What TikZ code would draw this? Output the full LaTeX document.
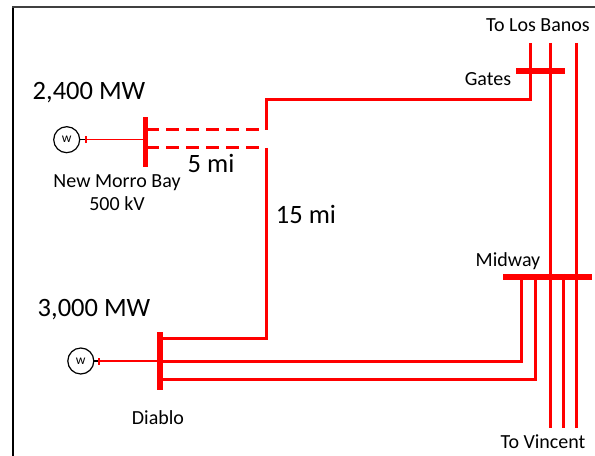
\documentclass[tikz,border=0pt]{standalone}
\usepackage{fontspec}
\setmainfont{Carlito}
\usepackage{tikz}

\tikzset{
  line/.style = {draw=red, line width=3bp},
  feeder/.style = {draw=red, line width=1.5bp},
  dashline/.style = {line, dash pattern=on 13bp off 7bp, dash phase=2bp},
  busbar/.style = {fill=red, inner sep=0pt, outer sep=0pt},
  gen/.style = {circle, draw, line width=1.2bp, minimum size=26bp, inner sep=0pt,
                font=\fontsize{13.5bp}{13.5bp}\selectfont},
  big/.style = {anchor=base, inner sep=0pt, font=\fontsize{26.5bp}{30bp}\selectfont},
  small/.style = {anchor=base, inner sep=0pt, font=\fontsize{20bp}{24bp}\selectfont}
}

\begin{document}
\begin{tikzpicture}[x=1bp, y=-1bp]
  \useasboundingbox (0,0) rectangle (595,456);
  % frame
  \draw[black, line width=2bp] (13,456) -- (13,7);
  \draw[black!75, line width=2bp] (12,7) -- (595,7);

  % buses
  \node[busbar, minimum width=5.5bp, minimum height=50bp] (bmb) at (145.5,142) {};
  \node[busbar, minimum width=6bp, minimum height=58bp] (bdb) at (160,361) {};
  \node[busbar, minimum width=49bp, minimum height=6bp] (bgt) at (540.5,71) {};
  \node[busbar, minimum width=89bp, minimum height=6bp] (bmw) at (547.5,277) {};

  % generators
  \node[gen] (gmb) at (66.7,139.7) {w};
  \node[gen] (gdb) at (80.8,361) {w};
  \coordinate (tmb) at (86,139.7);
  \coordinate (tdb) at (99,361);
  \foreach \g/\t/\b in {gmb/tmb/bmb, gdb/tdb/bdb} {
    \draw[black, line width=1.2bp] (\g.east) -- (\t);
    \draw[feeder] ([yshift=-3.5bp]\t) -- ([yshift=3.5bp]\t);
    \draw[feeder] (\t) -- (\t -| \b.west);
  }

  % corners and line ends
  \coordinate (cu) at (266,130);
  \coordinate (cl) at (266,148);
  \coordinate (ct) at (266,100);
  \coordinate (cg) at (530,100);
  \coordinate (cd) at (266,338);
  \coordinate (cm) at (521,361);
  \coordinate (cn) at (535,379);
  \coordinate (lb1) at (530,43);
  \coordinate (lb2) at (550,43);
  \coordinate (lb3) at (576,43);
  \coordinate (vc1) at (550,428);
  \coordinate (vc2) at (563,428);
  \coordinate (vc3) at (576,428);

  % Morro Bay lines
  \draw[dashline] (cu -| bmb.east) -- (cu);
  \draw[dashline] (cl -| bmb.east) -- (cl);
  \draw[line] (cu) -- (ct) -- (cg) -- (lb1);
  \draw[line] (cl) -- (cd) -- (cd -| bdb.east);

  % Diablo to Midway
  \draw[line] (cm -| bdb.east) -- (cm) -- (cm |- bmw.south);
  \draw[line] (cn -| bdb.east) -- (cn) -- (cn |- bmw.south);

  % through lines
  \draw[line] (lb2) -- (vc1);
  \draw[line] (lb3) -- (vc3);
  \draw[line] (vc2 |- bmw.north) -- (vc2);

  % labels
  \node[big] (pmb) at (89,100) {2,400 MW};
  \node[big] (pdb) at (94,316) {3,000 MW};
  \node[big] (l5) at (211,173) {5 mi};
  \node[big] (l15) at (306,224) {15 mi};
  \node[small] (nmb) at (117,188) {New Morro Bay};
  \node[small] (kmb) at (117,211) {500 kV};
  \node[small] (ndb) at (158,424) {Diablo};
  \node[small] (ngt) at (488,86) {Gates};
  \node[small] (nmw) at (508,267) {Midway};
  \node[small] (nlb) at (538,32) {To Los Banos};
  \node[small] (nvc) at (543,448) {To Vincent};
\end{tikzpicture}
\end{document}
